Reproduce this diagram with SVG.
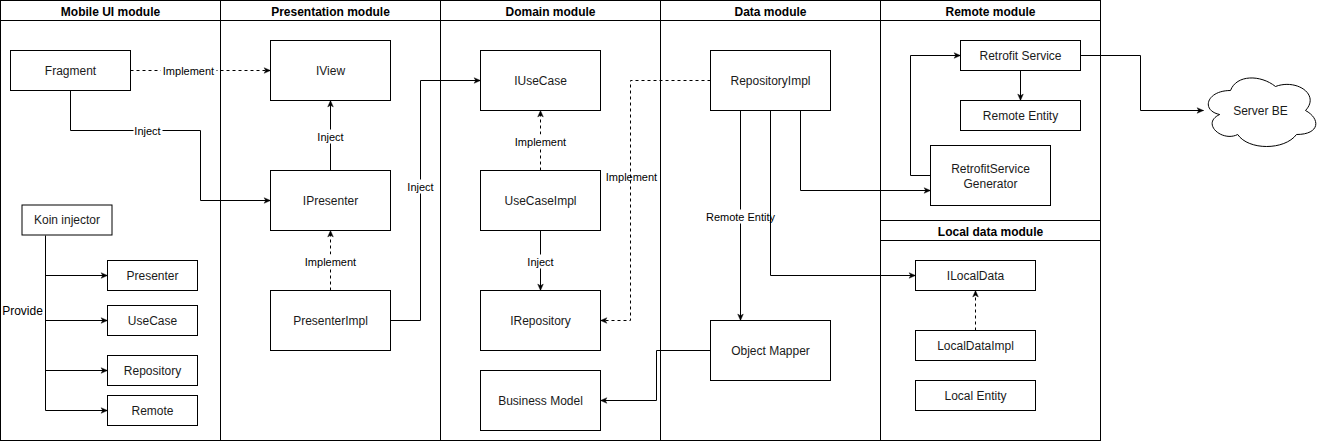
<svg xmlns="http://www.w3.org/2000/svg" width="1321" height="441" viewBox="0 0 1321 441">
<defs>
<style>
.lane{fill:none;stroke:#000;stroke-width:1}
.hdr{font-family:"Liberation Sans",Arial,sans-serif;font-size:12px;font-weight:bold;fill:#000;text-anchor:middle;dominant-baseline:central}
.box{fill:#fff;stroke:#000;stroke-width:1}
.t{font-family:"Liberation Sans",Arial,sans-serif;font-size:12px;fill:#1a1a1a;text-anchor:middle;dominant-baseline:central}
.e{fill:none;stroke:#000;stroke-width:1;marker-end:url(#arr)}
.en{fill:none;stroke:#000;stroke-width:1}
.d{stroke-dasharray:3 3}
.lbl{font-family:"Liberation Sans",Arial,sans-serif;font-size:11px;fill:#000;text-anchor:middle;dominant-baseline:central}
.bg{fill:#fff;stroke:none}
</style>
<marker id="arr" viewBox="0 0 10 10" refX="9" refY="5" markerWidth="8" markerHeight="8" markerUnits="userSpaceOnUse" orient="auto">
<path d="M1,1.5 L9,5 L1,8.5 L3,5 Z" fill="#000" stroke="#000" stroke-width="0.5"/>
</marker>
</defs>
<rect width="1321" height="441" fill="#fff"/>
<g transform="translate(0.5,0.5)">
<g id="lanes">
<rect class="lane" x="0" y="0" width="1100" height="440"/>
<line class="lane" x1="220" y1="0" x2="220" y2="440"/>
<line class="lane" x1="440" y1="0" x2="440" y2="440"/>
<line class="lane" x1="660" y1="0" x2="660" y2="440"/>
<line class="lane" x1="880" y1="0" x2="880" y2="440"/>
<line class="lane" x1="0" y1="20" x2="1100" y2="20"/>
<line class="lane" x1="880" y1="220" x2="1100" y2="220"/>
<line class="lane" x1="880" y1="240" x2="1100" y2="240"/>
<text class="hdr" x="110" y="11">Mobile UI module</text>
<text class="hdr" x="330" y="11">Presentation module</text>
<text class="hdr" x="550" y="11">Domain module</text>
<text class="hdr" x="770" y="11">Data module</text>
<text class="hdr" x="990" y="11">Remote module</text>
<text class="hdr" x="990" y="231">Local data module</text>
</g>
<g id="connectors">
<path class="e d" d="M130,70 H270"/>
<rect class="bg" x="160" y="63" width="56" height="14"/>
<text class="lbl" x="188" y="70">Implement</text>
<path class="e" d="M70,90 V130 H200 V200 H270"/>
<rect class="bg" x="133" y="123" width="29" height="14"/>
<text class="lbl" x="147" y="130">Inject</text>
<path class="e" d="M330,170 V100"/>
<rect class="bg" x="316" y="129" width="29" height="14"/>
<text class="lbl" x="330" y="136">Inject</text>
<path class="e d" d="M330,290 V230"/>
<rect class="bg" x="302" y="254" width="56" height="14"/>
<text class="lbl" x="330" y="261">Implement</text>
<path class="e" d="M390,320 H420 V80 H480"/>
<rect class="bg" x="406" y="179" width="29" height="14"/>
<text class="lbl" x="420" y="186">Inject</text>
<path class="e d" d="M540,170 V110"/>
<rect class="bg" x="512" y="134" width="56" height="14"/>
<text class="lbl" x="540" y="141">Implement</text>
<path class="e" d="M540,230 V290"/>
<rect class="bg" x="526" y="254" width="29" height="14"/>
<text class="lbl" x="540" y="261">Inject</text>
<path class="e d" d="M710,80 H630 V320 H600"/>
<text class="lbl" x="631" y="176">Implement</text>
<path class="e" d="M740,110 V320"/>
<rect class="bg" x="706" y="209" width="68" height="14"/>
<text class="lbl" x="740" y="216">Remote Entity</text>
<path class="e" d="M770,110 V275 H915"/>
<path class="e" d="M800,110 V190 H930"/>
<path class="e" d="M710,350 H656 V400 H600"/>
<path class="e" d="M1020,70 V100"/>
<path class="e" d="M930,175 H910 V55 H960"/>
<path class="e" d="M1080,55 H1140 V110 H1203"/>
<path class="e d" d="M975,330 V290"/>
<path class="en" d="M45,235 V410"/>
<path class="e" d="M45,275 H107"/>
<path class="e" d="M45,320 H107"/>
<path class="e" d="M45,370 H107"/>
<path class="e" d="M45,410 H107"/>
<text class="lbl" x="22" y="310" style="font-size:12px">Provide</text>
</g>
<g id="fragment"><rect class="box" x="10" y="50" width="120" height="40"/><text class="t" x="70" y="70">Fragment</text></g>
<g id="presenter"><rect class="box" x="107" y="260" width="90" height="30"/><text class="t" x="152" y="275">Presenter</text></g>
<g id="usecase"><rect class="box" x="107" y="305" width="90" height="30"/><text class="t" x="152" y="320">UseCase</text></g>
<g id="repository"><rect class="box" x="107" y="355" width="90" height="30"/><text class="t" x="152" y="370">Repository</text></g>
<g id="remote"><rect class="box" x="107" y="395" width="90" height="30"/><text class="t" x="152" y="410">Remote</text></g>
<g id="iview"><rect class="box" x="270" y="40" width="120" height="60"/><text class="t" x="330" y="70">IView</text></g>
<g id="ipresenter"><rect class="box" x="270" y="170" width="120" height="60"/><text class="t" x="330" y="200">IPresenter</text></g>
<g id="presenterimpl"><rect class="box" x="270" y="290" width="120" height="60"/><text class="t" x="330" y="320">PresenterImpl</text></g>
<g id="iusecase"><rect class="box" x="480" y="50" width="120" height="60"/><text class="t" x="540" y="80">IUseCase</text></g>
<g id="usecaseimpl"><rect class="box" x="480" y="170" width="120" height="60"/><text class="t" x="540" y="200">UseCaseImpl</text></g>
<g id="irepository"><rect class="box" x="480" y="290" width="120" height="60"/><text class="t" x="540" y="320">IRepository</text></g>
<g id="businessmodel"><rect class="box" x="480" y="370" width="120" height="60"/><text class="t" x="540" y="400">Business Model</text></g>
<g id="repositoryimpl"><rect class="box" x="710" y="50" width="120" height="60"/><text class="t" x="770" y="80">RepositoryImpl</text></g>
<g id="objectmapper"><rect class="box" x="710" y="320" width="120" height="60"/><text class="t" x="770" y="350">Object Mapper</text></g>
<g id="retrofitservice"><rect class="box" x="960" y="40" width="120" height="30"/><text class="t" x="1020" y="55">Retrofit Service</text></g>
<g id="remoteentity"><rect class="box" x="960" y="100" width="120" height="30"/><text class="t" x="1020" y="115">Remote Entity</text></g>
<g id="generator"><rect class="box" x="930" y="145" width="120" height="60"/><text class="t" x="990" y="168">RetrofitService</text><text class="t" x="990" y="183">Generator</text></g>
<g id="ilocaldata"><rect class="box" x="915" y="260" width="120" height="30"/><text class="t" x="975" y="275">ILocalData</text></g>
<g id="localdataimpl"><rect class="box" x="915" y="330" width="120" height="30"/><text class="t" x="975" y="345">LocalDataImpl</text></g>
<g id="localentity"><rect class="box" x="915" y="380" width="120" height="30"/><text class="t" x="975" y="395">Local Entity</text></g>
<g id="serverbe"><path class="box" d="M1230,90 C1206,90 1200,110 1219.2,114 C1200,122.8 1221.6,142 1237.2,134 C1248,150 1284,150 1296,134 C1320,134 1320,118 1305,110 C1320,94 1296,78 1275,86 C1260,74 1236,74 1230,90 Z"/><text class="t" x="1260" y="110">Server BE</text></g>
</g>
<g id="koin"><rect x="22" y="205" width="90" height="30" fill="#fff" stroke="#000" stroke-width="1"/><text class="t" x="67" y="220">Koin injector</text></g>
</svg>
